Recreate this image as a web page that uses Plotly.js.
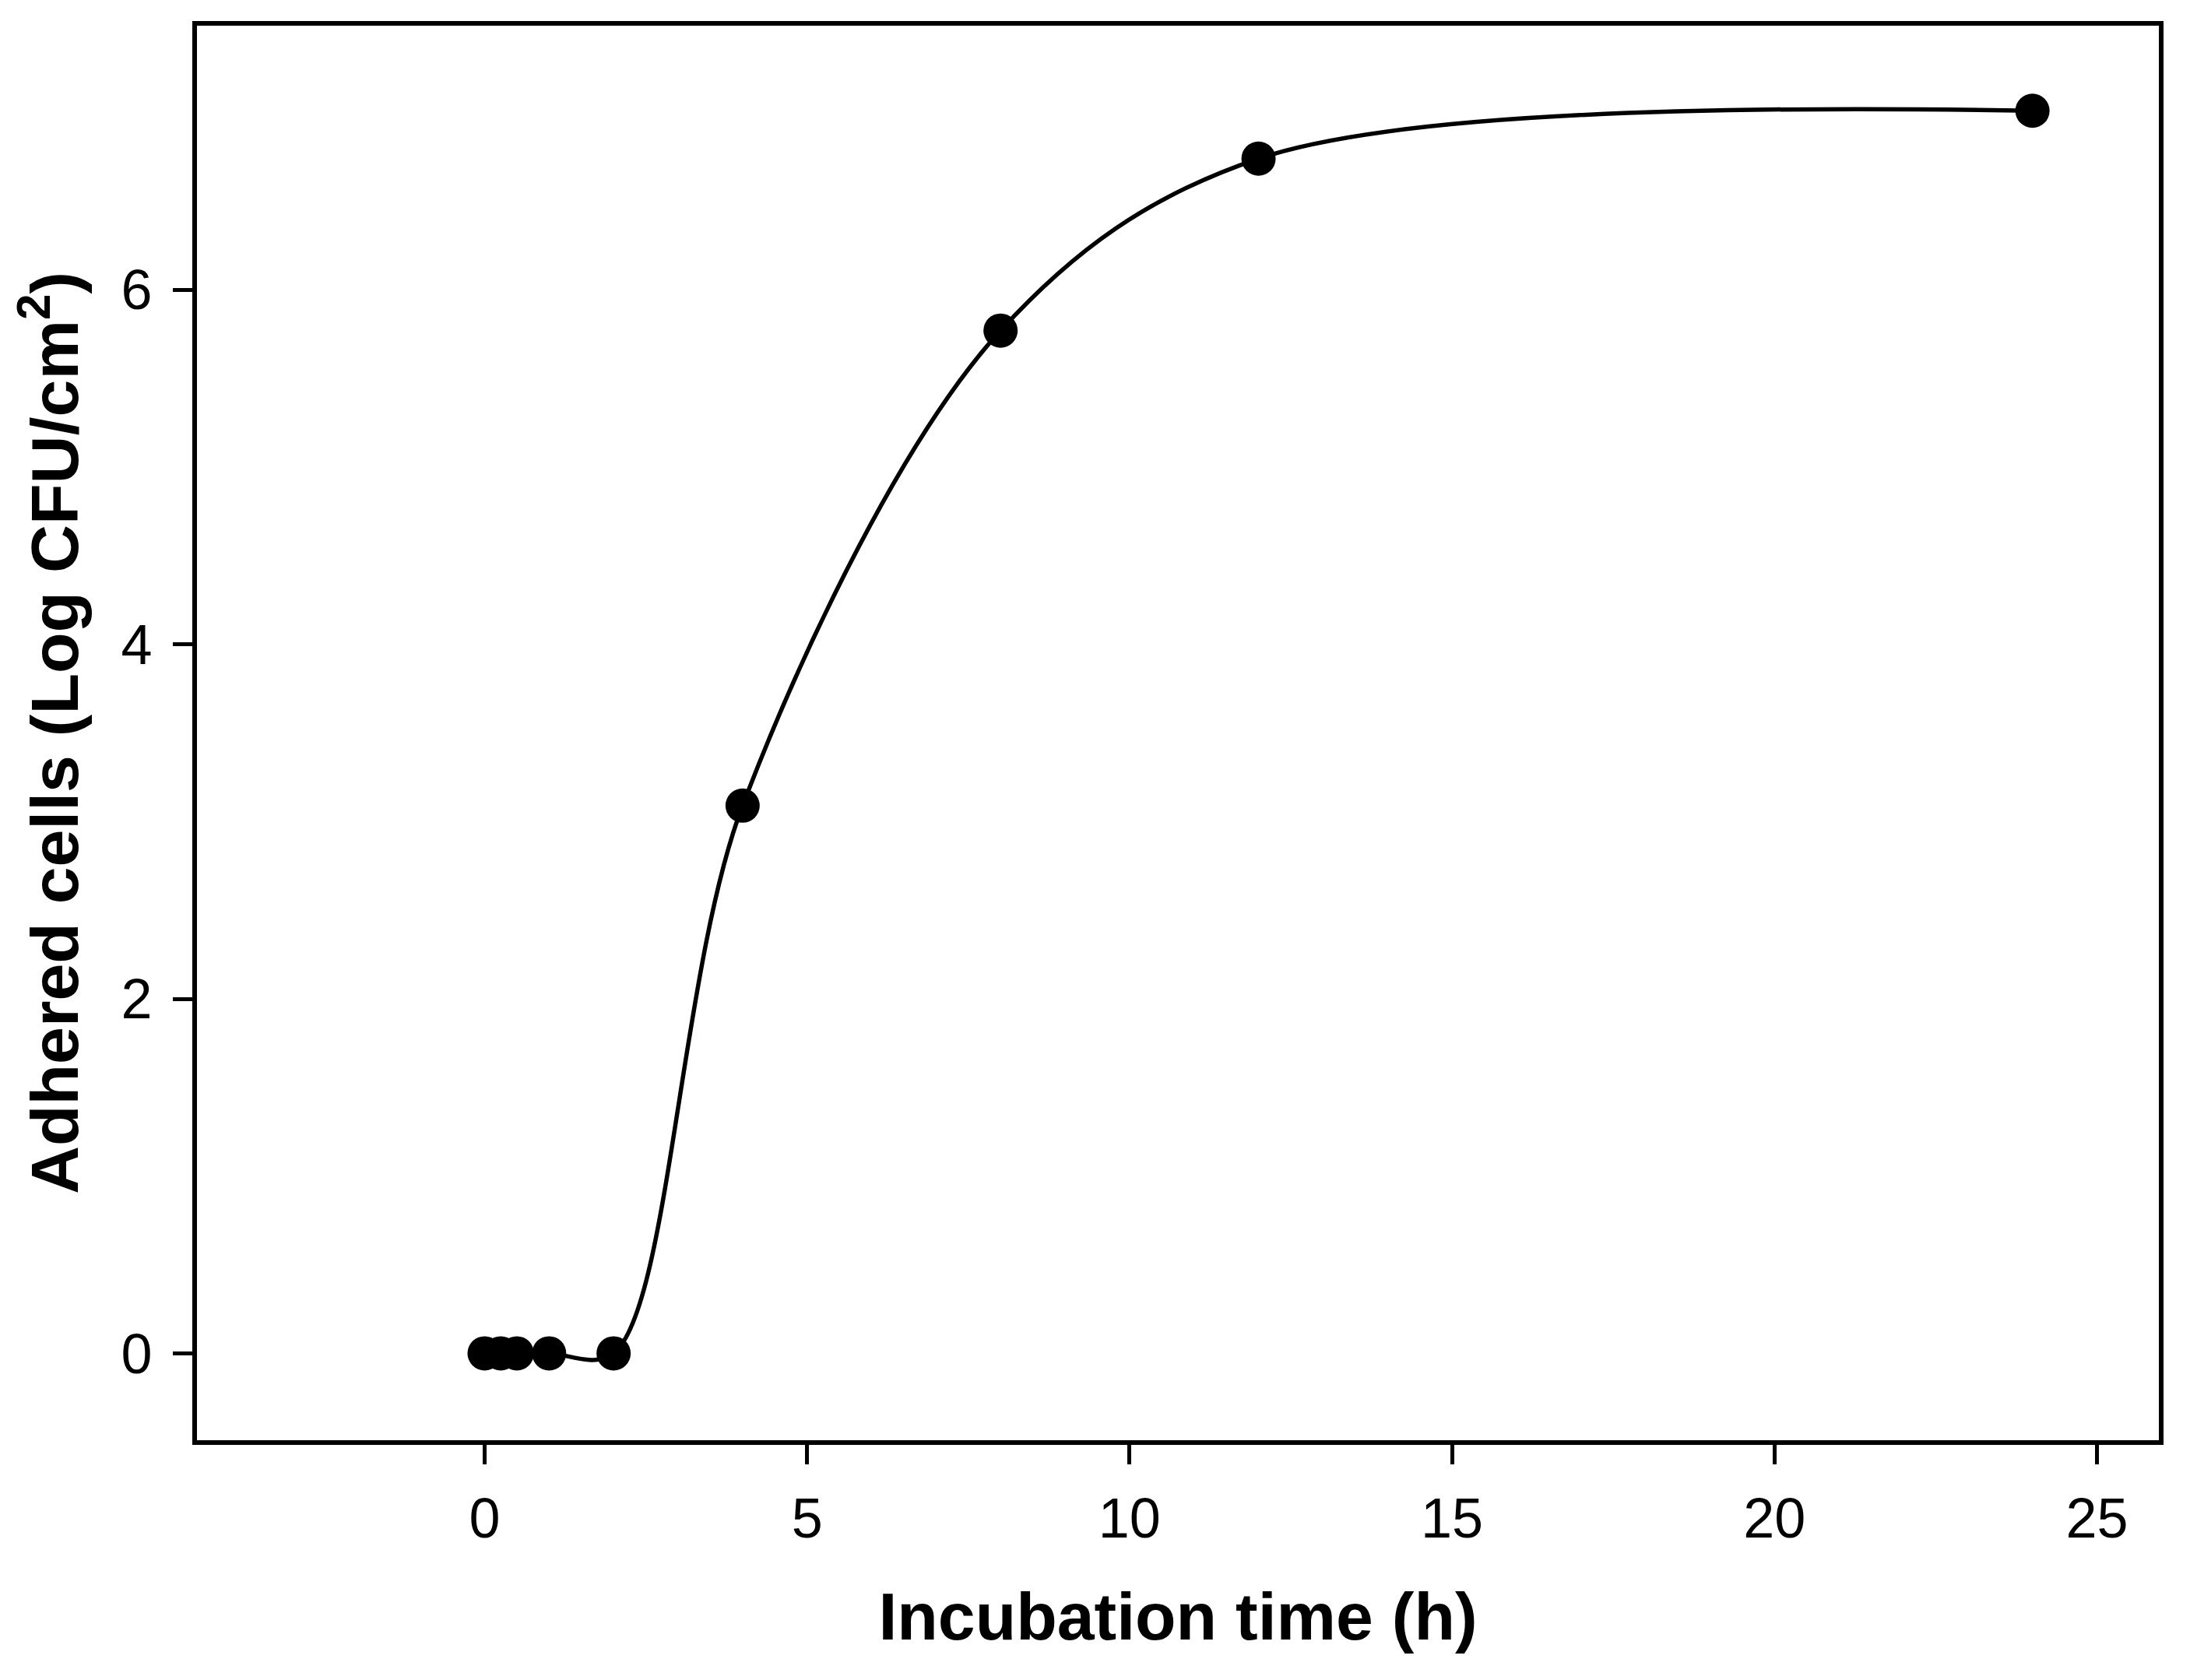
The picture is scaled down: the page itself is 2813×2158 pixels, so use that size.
<!DOCTYPE html>
<html>
<head>
<meta charset="utf-8">
<script src="https://cdn.plot.ly/plotly-3.0.1.min.js"></script>
<style>
  html, body { margin: 0; padding: 0; background: #ffffff; }
  #chart { width: 2813px; height: 2158px; }
</style>
</head>
<body>
<div id="chart"></div>
<script>
// Data
const incubationTime = [0, 0.25, 0.5, 1, 2, 4, 8, 12, 24];          // h
const adheredCells   = [0, 0, 0, 0, 0, 3.09, 5.77, 6.74, 7.01];     // Log CFU/cm^2
const xTickValues = [0, 5, 10, 15, 20, 25];
const yTickValues = [0, 2, 4, 6];
const xTitle = 'Incubation time (h)';
const yTitle = 'Adhered cells (Log CFU/cm<sup>2</sup>)';

const FONT = 'Liberation Sans, Arial, Helvetica, sans-serif';

const trace = {
  type: 'scatter',
  mode: 'lines+markers',
  x: incubationTime,
  y: adheredCells,
  line: { color: '#000000', width: 5.5, shape: 'spline', smoothing: 0.95 },
  marker: { color: '#000000', size: 44, line: { width: 0 } },
  hoverinfo: 'x+y',
  showlegend: false
};

const axisCommon = {
  showgrid: false,
  zeroline: false,
  showline: true,
  linecolor: '#000000',
  linewidth: 6,
  mirror: true,
  ticks: 'outside',
  ticklen: 25,
  tickwidth: 5,
  tickcolor: '#000000',
  tickfont: { family: FONT, size: 72, color: '#000000' },
  automargin: false
};

const layout = {
  width: 2813,
  height: 2158,
  paper_bgcolor: '#ffffff',
  plot_bgcolor: '#ffffff',
  margin: { l: 253, r: 40, t: 33, b: 308, pad: 0 },
  font: { family: FONT, color: '#000000' },
  xaxis: Object.assign({}, axisCommon, {
    range: [-4.46, 25.96],
    tickmode: 'array',
    tickvals: xTickValues,
    ticktext: xTickValues.map(String),
    ticklabelstandoff: 8,
    title: { text: '<b>' + xTitle + '</b>', font: { family: FONT, size: 86, color: '#000000' }, standoff: 58 }
  }),
  yaxis: Object.assign({}, axisCommon, {
    range: [-0.49, 7.49],
    tickmode: 'array',
    tickvals: yTickValues,
    ticktext: yTickValues.map(String),
    ticklabelstandoff: 12,
    title: { text: '<b>' + yTitle + '</b>', font: { family: FONT, size: 86, color: '#000000' }, standoff: 28 }
  })
};

Plotly.newPlot('chart', [trace], layout, { staticPlot: true, displayModeBar: false });
</script>
</body>
</html>
